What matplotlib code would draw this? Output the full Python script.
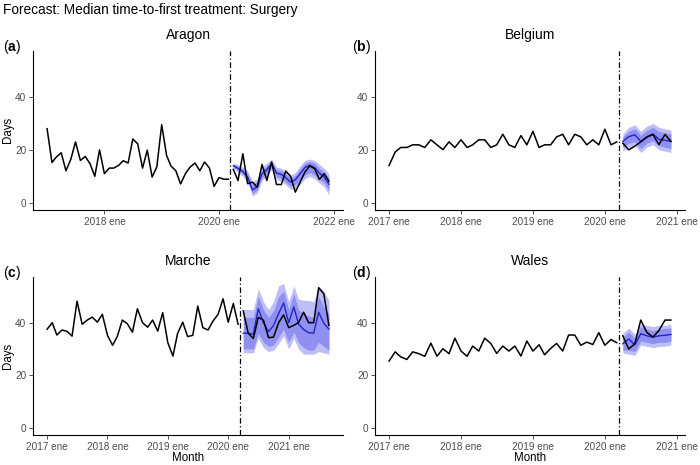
import matplotlib
matplotlib.use('Agg')
import matplotlib.pyplot as plt
import pandas as pd

plt.rcParams['font.family'] = ['Liberation Sans', 'DejaVu Sans']
plt.rcParams['mathtext.fontset'] = 'custom'
plt.rcParams['mathtext.rm'] = 'Liberation Sans'
plt.rcParams['mathtext.bf'] = 'Liberation Sans:bold'

# ---------------- data ----------------
title = "Forecast: Median time-to-first treatment: Surgery"
regions = ["Aragon", "Belgium", "Marche", "Wales"]
letters = ["a", "b", "c", "d"]
month_abbr = ["ene", "feb", "mar", "abr", "may", "jun", "jul", "ago", "sep", "oct", "nov", "dic"]

train_start = "2017-01-01"
test_start = "2020-04-01"
cutoff_date = "2020-03-14"

aragon_train = [28, 15.2, 17.3, 18.9, 12.1, 16.4, 23, 16, 17.5, 14.8, 10, 20, 11, 13.1, 13.1,
                14.1, 15.9, 15, 24.1, 22.3, 13.1, 19.9, 9.7, 13.6, 29.5, 17.9, 13.9, 12.1, 7.1,
                11, 13.5, 15, 12.1, 15.4, 13.1, 6.2, 9.5, 8.9, 8.9]
aragon_test = [12.6, 8.4, 18.5, 7.2, 7.8, 5.9, 14.5, 8.4, 15.4, 6.9, 6.9, 12, 10, 4, 7.8, 11.6,
               13.9, 12.9, 8.8, 11, 8.1]
aragon_fc = [14, 13, 11.8, 9.7, 4.8, 6.2, 11, 12.5, 14.8, 11.2, 10.7, 9.5, 7.8, 8.7, 11, 13.3,
             14.2, 13.3, 11.2, 9.7, 7]
aragon_lo95 = [13, 11.5, 10, 7.5, 2.5, 3.8, 8.5, 10, 12.5, 8.8, 8, 6.8, 5, 5.5, 7, 9, 10, 9, 7.5, 6, 3]
aragon_lo80 = [13.4, 12.2, 10.8, 8.4, 3.5, 4.8, 9.5, 11, 13.5, 9.8, 9, 7.8, 6.2, 6.8, 8.5, 10.5,
               11.5, 10.5, 8.8, 7.5, 4.5]
aragon_hi80 = [14.6, 13.8, 12.8, 11, 6.8, 8, 12.5, 14, 15.8, 12.5, 12, 11, 9.3, 10.3, 12.8, 15,
               15.5, 15, 13, 11.5, 9.5]
aragon_hi95 = [15, 14.5, 13.5, 12, 8, 9, 13.5, 15, 16.5, 13.5, 13, 12, 10.5, 11.5, 14, 16, 16.5,
               16, 14.5, 13, 11]

belgium_train = [14.1, 19.2, 20.9, 20.9, 21.9, 21.9, 20.9, 23.8, 21.9, 20.1, 23, 20.9, 23.8, 20.9,
                 21.9, 23.8, 23.8, 20.9, 21.9, 25.9, 21.9, 20.9, 25.4, 21.9, 27, 20.9, 21.9, 21.9,
                 24.9, 25.9, 21.9, 25.9, 24.9, 21.9, 23.8, 21.9, 27.8, 21.9, 23]
belgium_test = [22.5, 20, 21.4, 23, 24.8, 25.8, 22, 25.8, 23.2]
belgium_fc = [23.2, 25, 25.7, 23.2, 25, 26, 24, 23.6, 23.2]
belgium_lo95 = [19.5, 21, 21.5, 19, 21, 22, 20, 19.5, 19]
belgium_lo80 = [21, 22.5, 23, 20.5, 22.5, 23.5, 21.5, 21, 20.5]
belgium_hi80 = [25, 27, 28, 25.5, 27.5, 28.5, 27, 26.5, 26]
belgium_hi95 = [26, 28.5, 29.5, 27, 29, 30, 28.5, 28, 27.5]

marche_train = [37.5, 40, 35.3, 37.2, 36.7, 34.9, 48.2, 39.4, 41, 42.1, 40.2, 43.2, 35.2, 31.4,
                34.7, 41, 39.6, 36.4, 45.3, 40, 38.3, 41, 36.8, 43.8, 32.4, 27.3, 35.9, 40.2,
                34.7, 35.2, 46.3, 38.1, 37.2, 40.6, 43.2, 49.1, 40.2, 47.3, 39.4]
marche_test = [44.5, 36, 34, 42, 41, 34.3, 34.5, 40, 43, 38.1, 39, 40, 44, 40, 40, 53.3, 51, 39]
marche_fc = [36, 36, 35.6, 45.3, 40, 36.6, 38.9, 43.5, 47.5, 40, 46, 39.5, 37.4, 36.2, 36, 44,
             39.8, 37.6]
marche_lo95 = [28.5, 28.5, 28.5, 34, 30.5, 29, 29.5, 32, 35, 30, 34, 30, 28, 28, 28, 29, 28.5, 28]
marche_lo80 = [30, 30, 30, 36, 32.5, 31, 31.5, 34.5, 37.5, 32.5, 36.5, 32.5, 30.5, 29.5, 29.5,
               32.5, 31, 29.5]
marche_hi80 = [42, 42, 42, 50, 45, 42, 44.5, 50, 52, 45, 51, 45, 43.5, 42.5, 42, 50, 46, 43.5]
marche_hi95 = [45, 45, 45, 53, 48, 45, 48, 54, 55, 48, 54, 49, 48.5, 48.5, 48, 54, 52, 48.5]

wales_train = [25.4, 28.9, 27, 26, 28.9, 28.2, 27.2, 32.2, 27.2, 30.1, 28.2, 34.1, 29.2, 27.2,
               31.1, 29.2, 34.1, 32.1, 28.3, 31.1, 29.2, 31.1, 27.3, 33, 29.2, 31.6, 27.8, 30.2,
               32.1, 29.2, 35.3, 35.3, 31.4, 32.6, 31.7, 36.2, 31.4, 33.6, 32.4]
wales_test = [35, 30, 32, 41, 36.3, 34.5, 37, 41, 41]
wales_fc = [32, 33.8, 31.5, 35.8, 35, 34.5, 35, 35.2, 35.5]
wales_lo95 = [28.5, 28, 27.5, 31.5, 31, 30.5, 31, 31, 31.5]
wales_lo80 = [29.5, 29.5, 29, 33, 32.5, 32, 32.5, 32.5, 33]
wales_hi80 = [34.5, 36.5, 34, 38.5, 37.5, 37, 37.5, 37.8, 38]
wales_hi95 = [36, 38, 35.5, 39.5, 39, 38.5, 39, 39, 39.5]

xtick_years = {"Aragon": [2018, 2020, 2022], "Belgium": [2017, 2018, 2019, 2020, 2021],
               "Marche": [2017, 2018, 2019, 2020, 2021], "Wales": [2017, 2018, 2019, 2020, 2021]}
ytick_vals = [0, 20, 40]

series = {
    "Aragon": (aragon_train, aragon_test, aragon_fc, aragon_lo95, aragon_lo80, aragon_hi80, aragon_hi95),
    "Belgium": (belgium_train, belgium_test, belgium_fc, belgium_lo95, belgium_lo80, belgium_hi80, belgium_hi95),
    "Marche": (marche_train, marche_test, marche_fc, marche_lo95, marche_lo80, marche_hi80, marche_hi95),
    "Wales": (wales_train, wales_test, wales_fc, wales_lo95, wales_lo80, wales_hi80, wales_hi95),
}

# ---------------- layout ----------------
W, H = 700, 465
fig = plt.figure(figsize=(W / 100, H / 100), dpi=100)

# panel boxes in pixel coords: (left, top, right, bottom)
boxes = {
    "Aragon": (33, 50.7, 343, 210),
    "Belgium": (375, 50.7, 685, 210),
    "Marche": (33, 276.7, 343, 435),
    "Wales": (375, 276.7, 685, 435),
}
letter_x = {"Aragon": 3, "Belgium": 352, "Marche": 3, "Wales": 352}

fig.text(3 / W, 1 - 10 / H, title, fontsize=9.8, ha='left', va='center', color='black')

outer_col = '#bfbff8'
inner_col = '#9090f2'
fc_col = '#2424c8'
tick_col = '#4d4d4d'

for name, letter in zip(regions, letters):
    l, t, r, b = boxes[name]
    ax = fig.add_axes([l / W, 1 - b / H, (r - l) / W, (b - t) / H])
    tr, te, fc, lo95, lo80, hi80, hi95 = series[name]
    d_tr = pd.date_range(train_start, periods=len(tr), freq='MS')
    d_te = pd.date_range(test_start, periods=len(te), freq='MS')

    ax.fill_between(d_te, lo95, hi95, color=outer_col, lw=0, zorder=1)
    ax.fill_between(d_te, lo80, hi80, color=inner_col, lw=0, zorder=2)
    ax.plot(d_tr, tr, color='black', lw=1.1, zorder=4)
    ax.plot(d_te, te, color='black', lw=1.1, zorder=4)
    ax.plot(d_te, fc, color=fc_col, lw=1.0, zorder=3)
    ax.axvline(pd.Timestamp(cutoff_date), color='black', lw=0.9,
               linestyle=(0, (4.5, 2, 1, 2)), zorder=5)

    x0 = d_tr[0]
    x1 = d_te[-1]
    pad = (x1 - x0) * 0.05
    ax.set_xlim(x0 - pad, x1 + pad)
    ax.set_ylim(-2.75, 57.5)

    ticks = [pd.Timestamp(f"{y}-01-01") for y in xtick_years[name]]
    ax.set_xticks(ticks)
    ax.set_xticklabels([f"{tk.year} {month_abbr[tk.month - 1]}" for tk in ticks])
    ax.set_yticks(ytick_vals)
    ax.set_yticklabels([str(v) for v in ytick_vals])
    ax.tick_params(axis='both', labelsize=7.2, colors='#333333', labelcolor=tick_col,
                   length=2.8, width=0.6, pad=2)

    for s in ['top', 'right']:
        ax.spines[s].set_visible(False)
    for s in ['left', 'bottom']:
        ax.spines[s].set_linewidth(0.8)
        ax.spines[s].set_color('black')
    ax.patch.set_alpha(0)

    cx = (l + r) / 2
    fig.text(cx / W, 1 - (t - 15.5) / H, name, fontsize=10, ha='center', va='center')
    fig.text(letter_x[name] / W, 1 - (t - 4) / H, r'($\mathbf{' + letter + r'}$)', fontsize=10,
             ha='left', va='center')
    if l < 100:
        fig.text(8 / W, 1 - ((t + b) / 2) / H, "Days", fontsize=8.3, rotation=90,
                 ha='center', va='center')
    if t > 200:
        fig.text(cx / W, 1 - 458 / H, "Month", fontsize=8.3, ha='center', va='center')

fig.savefig('out.png', dpi=100)
